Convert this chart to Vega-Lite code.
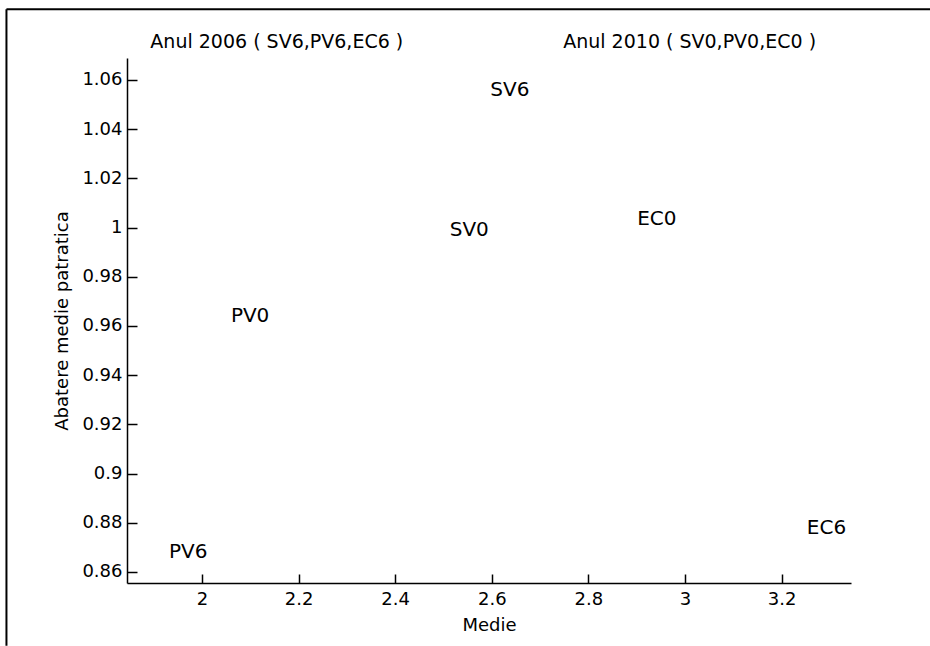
{
  "$schema": "https://vega.github.io/schema/vega-lite/v6.json",
  "width": 724,
  "height": 525,
  "autosize": {"type": "none"},
  "padding": {"left": 127, "top": 58, "right": 79, "bottom": 63},
  "background": "white",
  "config": {
    "view": {"stroke": null},
    "font": "DejaVu Sans"
  },
  "layer": [
    {
      "data": {"values": [
        {"label": "SV6", "medie": 2.597, "abatere": 1.0557},
        {"label": "PV6", "medie": 1.932, "abatere": 0.8683},
        {"label": "EC6", "medie": 3.252, "abatere": 0.8778},
        {"label": "SV0", "medie": 2.513, "abatere": 0.999},
        {"label": "PV0", "medie": 2.06, "abatere": 0.9642},
        {"label": "EC0", "medie": 2.901, "abatere": 1.0034}
      ]},
      "mark": {"type": "text", "align": "left", "baseline": "middle", "fontSize": 20, "font": "DejaVu Sans", "color": "black"},
      "encoding": {
        "x": {
          "field": "medie", "type": "quantitative",
          "scale": {"domain": [1.845, 3.3435], "nice": false, "zero": false},
          "axis": {
            "title": "Medie", "values": [2, 2.2, 2.4, 2.6, 2.8, 3, 3.2], "format": "~g",
            "grid": false, "domainColor": "black", "domainWidth": 1.5, "tickColor": "black", "tickWidth": 1.5, "tickSize": -9,
            "labelFont": "DejaVu Sans", "labelFontSize": 18, "labelColor": "black", "labelPadding": 16,
            "titleFont": "DejaVu Sans", "titleFontSize": 18, "titleFontWeight": "normal", "titleColor": "black", "titlePadding": 8
          }
        },
        "y": {
          "field": "abatere", "type": "quantitative",
          "scale": {"domain": [0.8555, 1.0689], "nice": false, "zero": false},
          "axis": {
            "title": "Abatere medie patratica", "values": [0.86, 0.88, 0.9, 0.92, 0.94, 0.96, 0.98, 1, 1.02, 1.04, 1.06], "format": "~g",
            "grid": false, "domainColor": "black", "domainWidth": 1.5, "tickColor": "black", "tickWidth": 1.5, "tickSize": -10,
            "labelFont": "DejaVu Sans", "labelFontSize": 18, "labelColor": "black", "labelPadding": 15,
            "titleFont": "DejaVu Sans", "titleFontSize": 18, "titleFontWeight": "normal", "titleColor": "black", "titlePadding": 10
          }
        },
        "text": {"field": "label"}
      }
    },
    {
      "data": {"values": [
        {"header": "Anul 2006 ( SV6,PV6,EC6 )", "medie": 2.155, "abatere": 1.0754},
        {"header": "Anul 2010 ( SV0,PV0,EC0 )", "medie": 3.0095, "abatere": 1.0754}
      ]},
      "mark": {"type": "text", "align": "center", "baseline": "middle", "fontSize": 19, "font": "DejaVu Sans", "color": "black"},
      "encoding": {
        "x": {"field": "medie", "type": "quantitative"},
        "y": {"field": "abatere", "type": "quantitative"},
        "text": {"field": "header"}
      }
    },
    {
      "data": {"values": [{}]},
      "mark": {"type": "rule", "color": "black", "strokeWidth": 2, "clip": false},
      "encoding": {
        "x": {"datum": 1.5955, "type": "quantitative"},
        "y": {"datum": 1.0887, "type": "quantitative"},
        "y2": {"datum": 0.83}
      }
    },
    {
      "data": {"values": [{}]},
      "mark": {"type": "rule", "color": "black", "strokeWidth": 2, "clip": false},
      "encoding": {
        "x": {"datum": 1.5955, "type": "quantitative"},
        "x2": {"datum": 3.53},
        "y": {"datum": 1.0887, "type": "quantitative"}
      }
    }
  ]
}
